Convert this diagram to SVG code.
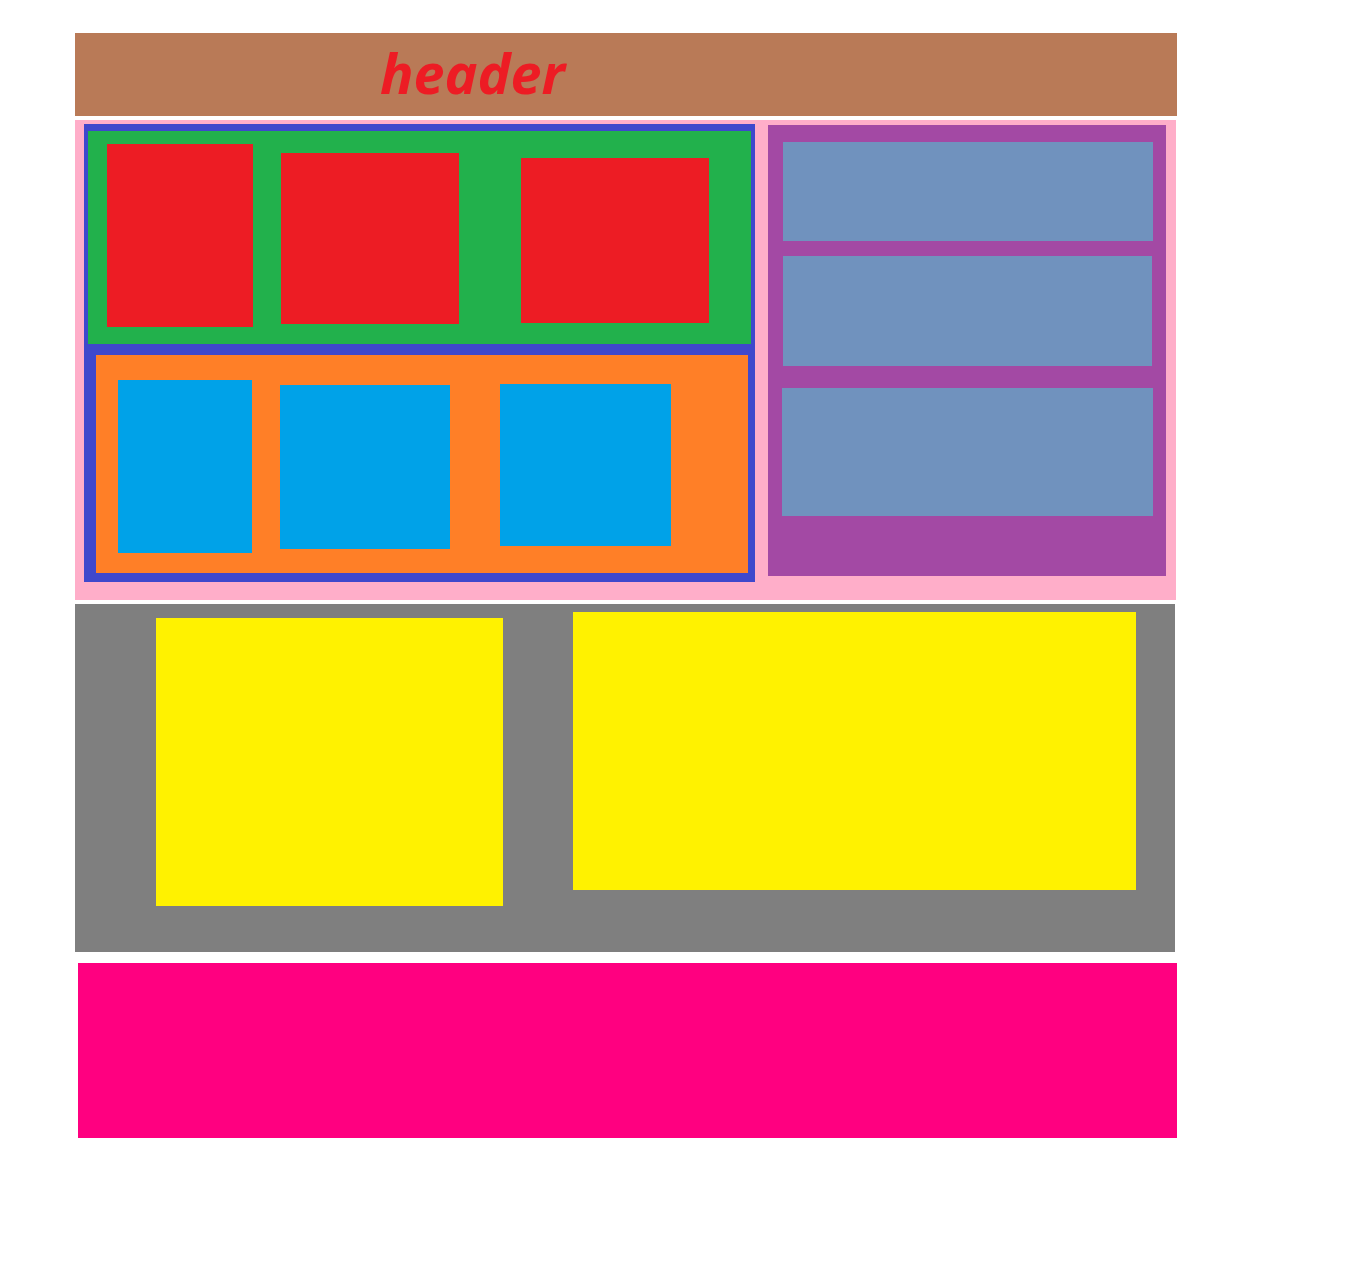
<svg xmlns="http://www.w3.org/2000/svg" width="1354" height="1286" viewBox="0 0 1354 1286">
<style>
.hdr{fill:#B97A57}.red{fill:#ED1C24}.pink{fill:#FFAEC9}.blue{fill:#3F48CC}.green{fill:#22B14C}.orange{fill:#FF7F27}.cyan{fill:#00A2E8}.purple{fill:#A349A4}.pale{fill:#7092BE}.gray{fill:#7F7F7F}.yellow{fill:#FFF200}.mag{fill:#FF0080}
.t{font-family:"Open Sans","Liberation Sans",sans-serif;font-weight:bold;font-style:italic;font-size:56px;fill:#ED1C24}
</style>
<rect width="1354" height="1286" fill="#FFFFFF"/>
<g id="header">
<rect class="hdr" x="75" y="33" width="1102" height="83"/>
<text class="t" x="380" y="94" textLength="185" lengthAdjust="spacingAndGlyphs">header</text>
</g>
<g id="main">
<rect class="pink" x="75" y="120" width="1101" height="480"/>
<g id="content">
<rect class="blue" x="84" y="124" width="671" height="458"/>
<g id="top-row">
<rect class="green" x="88" y="131" width="663" height="213"/>
<rect class="red" x="107" y="144" width="146" height="183"/>
<rect class="red" x="281" y="153" width="178" height="171"/>
<rect class="red" x="521" y="158" width="188" height="165"/>
</g>
<g id="bottom-row">
<rect class="orange" x="96" y="355" width="652" height="218"/>
<rect class="cyan" x="118" y="380" width="134" height="173"/>
<rect class="cyan" x="280" y="385" width="170" height="164"/>
<rect class="cyan" x="500" y="384" width="171" height="162"/>
</g>
</g>
<g id="sidebar">
<rect class="purple" x="768" y="125" width="398" height="451"/>
<rect class="pale" x="783" y="142" width="370" height="99"/>
<rect class="pale" x="783" y="256" width="369" height="110"/>
<rect class="pale" x="782" y="388" width="371" height="128"/>
</g>
</g>
<g id="section">
<rect class="gray" x="75" y="604" width="1100" height="348"/>
<rect class="yellow" x="156" y="618" width="347" height="288"/>
<rect class="yellow" x="573" y="612" width="563" height="278"/>
</g>
<g id="footer">
<rect class="mag" x="78" y="963" width="1099" height="175"/>
</g>
<g id="connectors"/>
</svg>
